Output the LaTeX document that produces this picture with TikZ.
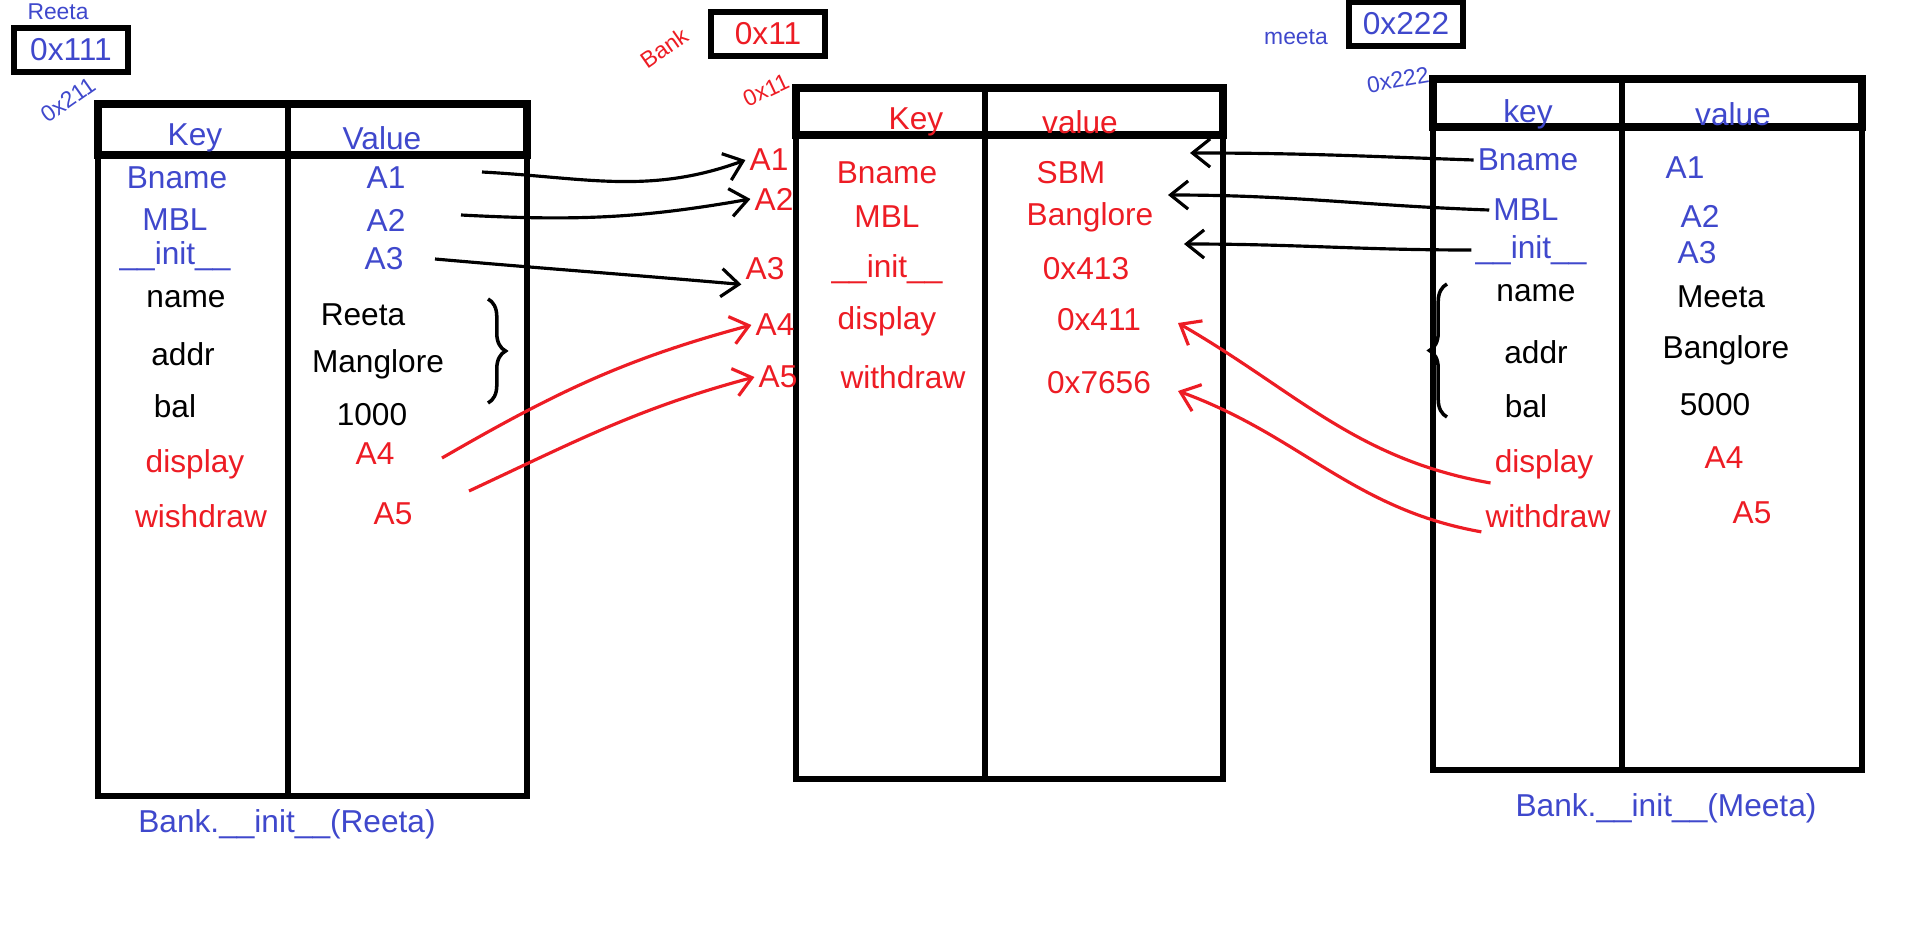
\documentclass[tikz,border=0pt]{standalone}
\usepackage{fontspec}
\setmainfont{Liberation Sans}
\usetikzlibrary{arrows.meta, positioning, decorations.pathreplacing}
\definecolor{inkblue}{RGB}{63,72,204}
\definecolor{inkred}{RGB}{237,28,36}
\definecolor{inkdark}{RGB}{0,0,0}
\tikzset{
  tblline/.style={line width=1.5pt, color=inkdark},
  hdrline/.style={line width=2.2pt, color=inkdark},
  addrbox/.style={rectangle, draw=inkdark, line width=1.5pt,
    minimum width=1.14cm, minimum height=0.44cm, inner sep=0pt},
  bluetxt/.style={font=\fontsize{9}{11}\selectfont, text=inkblue, inner sep=1pt},
  redtxt/.style={font=\fontsize{9}{11}\selectfont, text=inkred, inner sep=1pt},
  blacktxt/.style={font=\fontsize{9}{11}\selectfont, text=inkdark, inner sep=1pt},
  smalltxt/.style={font=\fontsize{6.5}{8}\selectfont},
  arrow/.style={-{Straight Barb[length=5pt,width=8pt]}, line width=0.9pt, color=inkdark},
  redarrow/.style={-{Straight Barb[length=5pt,width=8pt]}, line width=0.9pt, color=inkred},
  bracket/.style={decorate, decoration={brace, amplitude=5pt}, line width=1pt, color=inkdark}
}
\begin{document}
\begin{tikzpicture}[x=0.01cm, y=-0.01cm]
  \useasboundingbox (0,0) rectangle (1914,933);
  % object / class boxes
  \node[bluetxt, smalltxt] (reeta) at (58,12) {Reeta};
  \node[addrbox, bluetxt] (rbox) at (71,50) {0x111};
  \node[bluetxt, smalltxt, rotate=35] (raddr) at (68,100) {0x211};
  \node[redtxt, smalltxt, rotate=35] (bank) at (664,48) {Bank};
  \node[addrbox, redtxt] (bbox) at (768,34) {0x11};
  \node[redtxt, smalltxt, rotate=25] (baddr) at (766,90) {0x11};
  \node[bluetxt, smalltxt] (meeta) at (1296,37) {meeta};
  \node[addrbox, bluetxt] (mbox) at (1406,24) {0x222};
  \node[bluetxt, smalltxt, rotate=10] (maddr) at (1398,80) {0x222};
  % tables
  \draw[tblline] (98,104) rectangle (527,796);
  \draw[hdrline] (98,104) rectangle (527,155);
  \draw[tblline] (288,104) -- (288,796);
  \draw[tblline] (796,88) rectangle (1223,779);
  \draw[hdrline] (796,88) rectangle (1223,135);
  \draw[tblline] (985,88) -- (985,779);
  \draw[tblline] (1433,79) rectangle (1862,770);
  \draw[hdrline] (1433,79) rectangle (1862,127);
  \draw[tblline] (1622,79) -- (1622,770);
  % Reeta object
  \node[bluetxt] (lkh) at (195,138) {Key};
  \node[bluetxt] (lvh) at (382,138) {Value};
  \node[bluetxt] (lk1) at (177,178) {Bname};
  \node[bluetxt] (lk2) at (175,220) {MBL};
  \node[bluetxt] (lk3) at (175,256) {\_\_init\_\_};
  \node[blacktxt] (lk4) at (186,299) {name};
  \node[blacktxt] (lk5) at (183,354) {addr};
  \node[blacktxt] (lk6) at (175,406) {bal};
  \node[redtxt] (lk7) at (195,464) {display};
  \node[redtxt] (lk8) at (201,516) {wishdraw};
  \node[bluetxt] (lv1) at (386,178) {A1};
  \node[bluetxt] (lv2) at (386,220) {A2};
  \node[bluetxt] (lv3) at (384,259) {A3};
  \node[blacktxt] (lv4) at (363,315) {Reeta};
  \node[blacktxt] (lv5) at (378,364) {Manglore};
  \node[blacktxt] (lv6) at (372,415) {1000};
  \node[redtxt] (lv7) at (375,454) {A4};
  \node[redtxt] (lv8) at (393,514) {A5};
  \coordinate (lbtop) at (488,299);
  \coordinate (lbbot) at (488,403);
  \draw[bracket] (lbtop) -- (lbbot);
  \node[bluetxt] (lcall) at (287,824) {Bank.\_\_init\_\_(Reeta)};
  % Bank class
  \node[redtxt] (mkh) at (916,122) {Key};
  \node[redtxt] (mvh) at (1080,122) {value};
  \node[redtxt] (mk1) at (887,173) {Bname};
  \node[redtxt] (mk2) at (887,217) {MBL};
  \node[redtxt] (mk3) at (887,269) {\_\_init\_\_};
  \node[redtxt] (mk4) at (887,321) {display};
  \node[redtxt] (mk5) at (903,377) {withdraw};
  \node[redtxt] (mv1) at (1071,173) {SBM};
  \node[redtxt] (mv2) at (1090,217) {Banglore};
  \node[redtxt] (mv3) at (1086,269) {0x413};
  \node[redtxt] (mv4) at (1099,320) {0x411};
  \node[redtxt] (mv5) at (1099,383) {0x7656};
  \node[redtxt] (ma1) at (769,160) {A1};
  \node[redtxt] (ma2) at (774,199) {A2};
  \node[redtxt] (ma3) at (765,269) {A3};
  \node[redtxt] (ma4) at (775,325) {A4};
  \node[redtxt] (ma5) at (778,377) {A5};
  % Meeta object
  \node[bluetxt] (rkh) at (1528,114) {key};
  \node[bluetxt] (rvh) at (1733,114) {value};
  \node[bluetxt] (rk1) at (1528,160) {Bname};
  \node[bluetxt] (rk2) at (1526,210) {MBL};
  \node[bluetxt] (rk3) at (1531,250) {\_\_init\_\_};
  \node[blacktxt] (rk4) at (1536,293) {name};
  \node[blacktxt] (rk5) at (1536,352) {addr};
  \node[blacktxt] (rk6) at (1526,406) {bal};
  \node[redtxt] (rk7) at (1544,464) {display};
  \node[redtxt] (rk8) at (1548,516) {withdraw};
  \node[bluetxt] (rv1) at (1685,168) {A1};
  \node[bluetxt] (rv2) at (1700,216) {A2};
  \node[bluetxt] (rv3) at (1697,253) {A3};
  \node[blacktxt] (rv4) at (1721,297) {Meeta};
  \node[blacktxt] (rv5) at (1726,350) {Banglore};
  \node[blacktxt] (rv6) at (1715,405) {5000};
  \node[redtxt] (rv7) at (1724,458) {A4};
  \node[redtxt] (rv8) at (1752,513) {A5};
  \coordinate (rbtop) at (1447,284);
  \coordinate (rbbot) at (1447,417);
  \draw[bracket] (rbbot) -- (rbtop);
  \node[bluetxt] (rcall) at (1666,808) {Bank.\_\_init\_\_(Meeta)};
  % references into the class
  \coordinate (la1) at (482,172);
  \coordinate (la2) at (461,215);
  \coordinate (la3) at (435,259);
  \coordinate (la4) at (442,458);
  \coordinate (la5) at (469,491);
  \draw[arrow] (la1) to[out=-3, in=200] (ma1.west);
  \draw[arrow] (la2) to[out=-3, in=190] (ma2.west);
  \draw[arrow] (la3) to[out=-5, in=175] (ma3.south west);
  \draw[redarrow] (la4) to[out=30, in=195] (ma4.west);
  \draw[redarrow] (la5) to[out=25, in=195] (ma5.west);
  \coordinate (tsbm) at (1190,153);
  \coordinate (tbang) at (1168,195);
  \coordinate (tinit) at (1184,244);
  \coordinate (tdisp) at (1178,323);
  \coordinate (twd) at (1178,391);
  \draw[arrow] (rk1.west) to[out=178, in=0] (tsbm);
  \draw[arrow] (rk2.west) to[out=178, in=0] (tbang);
  \draw[arrow] (rk3.west) to[out=180, in=0] (tinit);
  \draw[redarrow] (rk7.south west) to[out=170, in=-30] (tdisp);
  \draw[redarrow] (rk8.south west) to[out=170, in=-20] (twd);
\end{tikzpicture}
\end{document}
